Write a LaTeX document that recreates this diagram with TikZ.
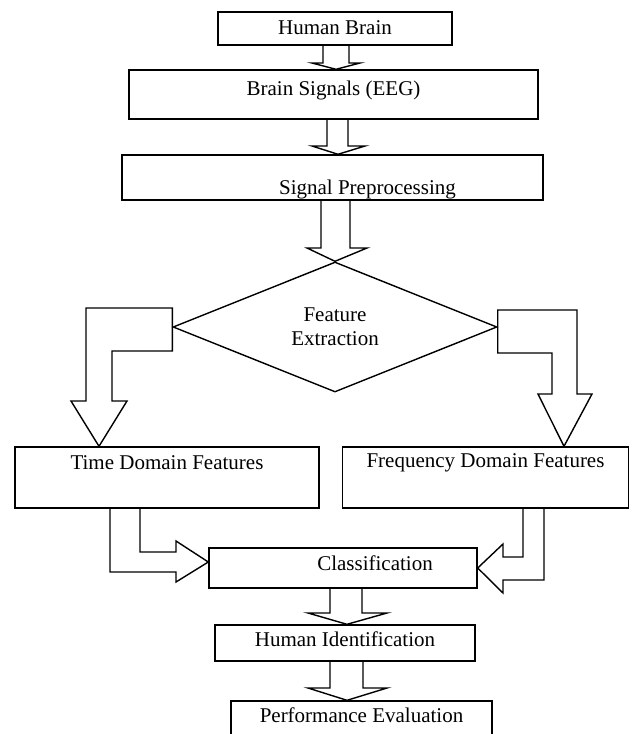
\documentclass[tikz,border=0pt]{standalone}
\usepackage{fontspec}
\setmainfont{Liberation Serif}
\usepackage{tikz}
\usetikzlibrary{shapes.geometric}
\tikzset{
  fbox/.style={draw=black, line width=1.4pt, inner sep=0pt, anchor=base,
               font=\fontsize{21}{24}\selectfont},
  fdiam/.style={diamond, draw=black, line width=1.4pt, inner sep=0pt,
                align=center, font=\fontsize{21}{24}\selectfont},
  farrow/.style={draw=black, line width=1.4pt, line join=miter}
}
\begin{document}
\begin{tikzpicture}[x=1pt, y=-1pt]
  \clip (0,0) rectangle (632,734);
  % boxes
  \node[fbox, minimum width=234, text height=22, text depth=11] (brain) at (335,34) {Human Brain};
  \node[fbox, minimum width=409, text height=25, text depth=24] (eeg) at (333.5,95) {Brain Signals (EEG)};
  \node[fbox, minimum width=421, text height=39, text depth=6] (prep) at (332.5,194) {\hspace*{70pt}Signal Preprocessing};
  \node[fdiam, minimum width=324, minimum height=130] (feat) at (335,327) {Feature\\Extraction};
  \node[fbox, minimum width=304, text height=22, text depth=39] (time) at (167,469) {Time Domain Features};
  \node[fbox, minimum width=286, text height=20, text depth=41] (freq) at (485.5,467) {Frequency Domain Features};
  \node[fbox, minimum width=268, text height=22, text depth=18] (cls) at (343,570) {\hspace*{64pt}Classification};
  \node[fbox, minimum width=260, text height=21, text depth=15] (hid) at (345,646) {Human Identification};
  \node[fbox, minimum width=261, text height=21, text depth=20] (perf) at (361.5,722) {Performance Evaluation};
  % straight block arrows
  \draw[farrow] (323,0 |- brain.south) -- (323,63) -- (312,63) -- (336,0 |- eeg.north)
    -- (360,63) -- (349,63) -- (349,0 |- brain.south);
  \draw[farrow] (327,0 |- eeg.south) -- (327,146) -- (312,146) -- (338,0 |- prep.north)
    -- (365,146) -- (348,146) -- (348,0 |- eeg.south);
  \draw[farrow] (321,0 |- prep.south) -- (321,248) -- (307,248) -- (feat.north)
    -- (367,248) -- (350,248) -- (350,0 |- prep.south);
  % bent block arrows
  \draw[farrow] (feat.west |- 0,308) -- (86,308) -- (86,401) -- (71,401) -- (99,0 |- time.north)
    -- (127,401) -- (112,401) -- (112,351) -- (feat.west |- 0,351) -- cycle;
  \draw[farrow] (feat.east |- 0,310) -- (577,310) -- (577,394) -- (592,394) -- (564,0 |- freq.north)
    -- (538,394) -- (552,394) -- (552,353) -- (feat.east |- 0,353) -- cycle;
  \draw[farrow] (140,0 |- time.south) -- (140,552) -- (176,552) -- (176,541) -- (cls.west |- 0,562)
    -- (176,582) -- (176,572) -- (110,572) -- (110,0 |- time.south);
  \draw[farrow] (523,0 |- freq.south) -- (523,557) -- (503,557) -- (503,544) -- (cls.east |- 0,568)
    -- (503,593) -- (503,580) -- (544,580) -- (544,0 |- freq.south);
  \draw[farrow] (330,0 |- cls.south) -- (330,613) -- (308,613) -- (347,0 |- hid.north)
    -- (387,613) -- (362,613) -- (362,0 |- cls.south);
  \draw[farrow] (330,0 |- hid.south) -- (330,688) -- (308,688) -- (347,0 |- perf.north)
    -- (387,688) -- (363,688) -- (363,0 |- hid.south);
\end{tikzpicture}
\end{document}
